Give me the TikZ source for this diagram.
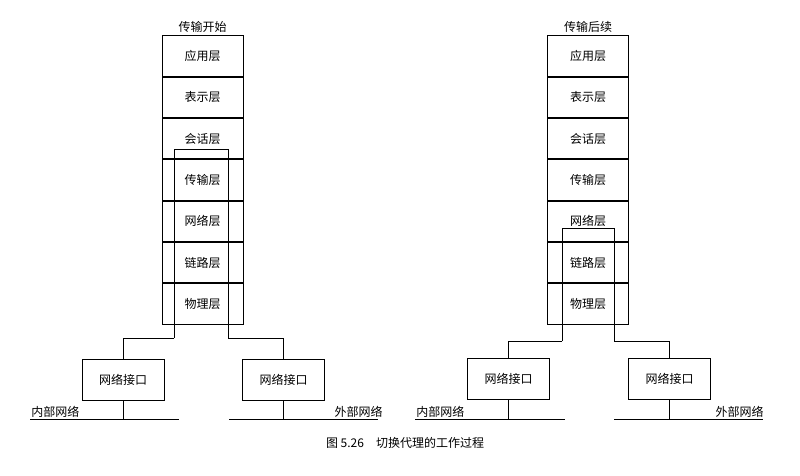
\documentclass[tikz,border=0pt]{standalone}
\usepackage{fontspec}
\setmainfont{Noto Sans CJK SC}
\usetikzlibrary{positioning}

\begin{document}
\begin{tikzpicture}[x=1pt, y=-1pt, line width=0.8pt,
  layer/.style={draw, minimum width=81pt, minimum height=40.5pt, inner sep=0pt, font=\fontsize{12}{14}\selectfont},
  iface/.style={draw, minimum width=82pt, minimum height=41pt, inner sep=0pt, font=\fontsize{12}{14}\selectfont},
  lbl/.style={font=\fontsize{12}{14}\selectfont, inner sep=1pt}]

\useasboundingbox (0,0) rectangle (800,475);

% left stack
\node[layer] (l1) at (202.5,56) {应用层};
\foreach \t [count=\i from 2] in {表示层,会话层,传输层,网络层,链路层,物理层} {
  \pgfmathtruncatemacro\p{\i-1}
  \node[layer, below=0pt of l\p] (l\i) {\t};
}
\node[lbl, above=1pt of l1] (ltitle) {传输开始};

% right stack
\node[layer] (r1) at (588,56) {应用层};
\foreach \t [count=\i from 2] in {表示层,会话层,传输层,网络层,链路层,物理层} {
  \pgfmathtruncatemacro\p{\i-1}
  \node[layer, below=0pt of r\p] (r\i) {\t};
}
\node[lbl, above=1pt of r1] (rtitle) {传输后续};

% inner path through stacks
\draw (174,338) -- (174,149) -- (228,149) -- (228,338);
\draw (562,341) -- (562,228) -- (614,228) -- (614,341);

% interfaces
\node[iface] (lin) at (123,379.5) {网络接口};
\node[iface] (lout) at (283.5,379.5) {网络接口};
\node[iface] (rin) at (508.5,379) {网络接口};
\node[iface] (rout) at (669.5,379) {网络接口};

\draw (174,338) -| (lin.north);
\draw (228,338) -| (lout.north);
\draw (562,341) -| (rin.north);
\draw (614,341) -| (rout.north);

% networks
\coordinate (lna) at (30,419);  \coordinate (lnb) at (179,419);
\coordinate (lxa) at (229,419); \coordinate (lxb) at (378,419);
\coordinate (rna) at (415,419); \coordinate (rnb) at (565,419);
\coordinate (rxa) at (614,419); \coordinate (rxb) at (763,419);
\draw (lna) -- (lnb);  \draw (lxa) -- (lxb);
\draw (rna) -- (rnb);  \draw (rxa) -- (rxb);
\draw (lin.south) -- (lin.south |- lna);
\draw (lout.south) -- (lout.south |- lxa);
\draw (rin.south) -- (rin.south |- rna);
\draw (rout.south) -- (rout.south |- rxa);

\node[lbl, above right=0pt and 0pt of lna] (lnl) {内部网络};
\node[lbl, above left=0pt and -6pt of lxb] (lxl) {外部网络};
\node[lbl, above right=0pt and 0pt of rna] (rnl) {内部网络};
\node[lbl, above left=0pt and -2pt of rxb] (rxl) {外部网络};

\node[lbl] (cap) at (405,443) {图 5.26\quad 切换代理的工作过程};
\end{tikzpicture}
\end{document}
